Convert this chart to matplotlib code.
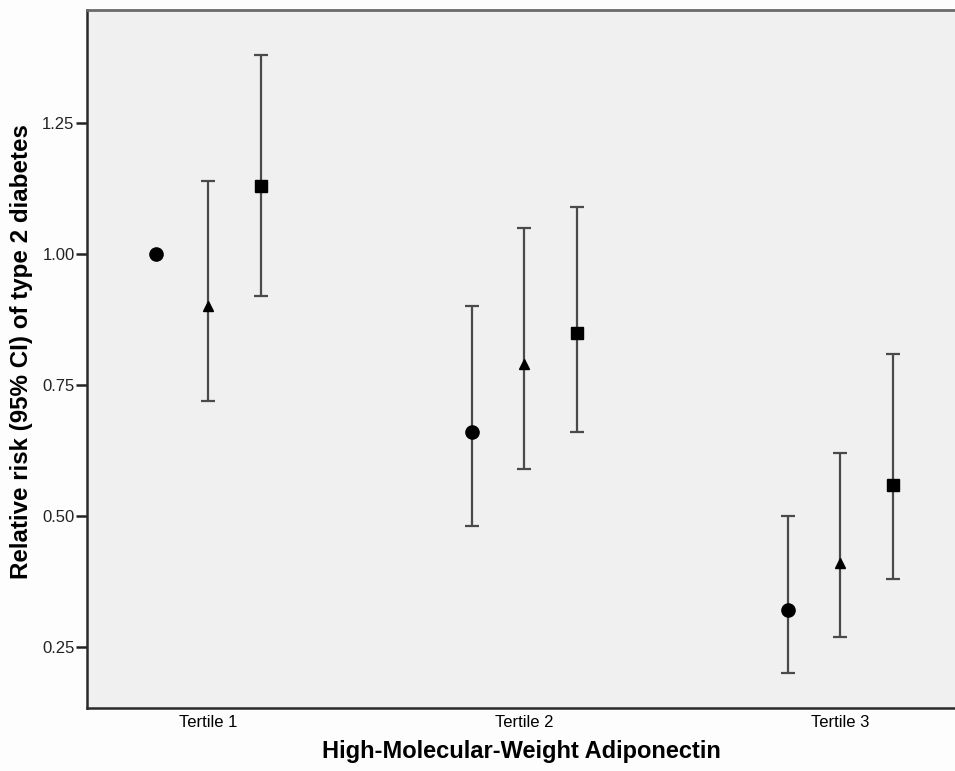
import matplotlib
matplotlib.use("Agg")
import matplotlib.pyplot as plt
import numpy as np

plt.rcParams['font.family'] = ['Liberation Sans', 'DejaVu Sans']

categories = ["Tertile 1", "Tertile 2", "Tertile 3"]
series_names = ["Model 1", "Model 2", "Model 3"]
rr = {
    "Model 1": [1.00, 0.66, 0.32],
    "Model 2": [0.90, 0.79, 0.41],
    "Model 3": [1.13, 0.85, 0.56],
}
lower = {
    "Model 1": [1.00, 0.48, 0.20],
    "Model 2": [0.72, 0.59, 0.27],
    "Model 3": [0.92, 0.66, 0.38],
}
upper = {
    "Model 1": [1.00, 0.90, 0.50],
    "Model 2": [1.14, 1.05, 0.62],
    "Model 3": [1.38, 1.09, 0.81],
}
yticks = [0.25, 0.50, 0.75, 1.00, 1.25]

markers = {"Model 1": ("o", 9.5), "Model 2": ("^", 7.0), "Model 3": ("s", 8.5)}
offsets = {"Model 1": -0.166, "Model 2": 0.0, "Model 3": 0.168}

fig = plt.figure(figsize=(9.55, 7.71), dpi=100)
fig.patch.set_facecolor("#fdfdfd")
ax = fig.add_axes([87/955, 1-708/771, 1-87/955, (708-10)/771])
ax.set_facecolor("#f0f0f0")

x = np.arange(len(categories))
for name in series_names:
    y = np.array(rr[name])
    lo = np.array(lower[name])
    hi = np.array(upper[name])
    xs = x + offsets[name]
    has_ci = hi > lo
    ax.errorbar(xs[has_ci], y[has_ci], yerr=[y[has_ci]-lo[has_ci], hi[has_ci]-y[has_ci]],
                fmt="none", ecolor="#4a4a4a", elinewidth=1.6, capsize=5, capthick=1.6, zorder=2)
    m, ms = markers[name]
    ax.plot(xs, y, linestyle="none", marker=m, markersize=ms, color="black", zorder=3)

ax.set_xlim(-0.383, 2.364)
ax.set_ylim(0.1336, 1.4656)
ax.set_xticks(x)
ax.set_xticklabels(categories, fontsize=12)
ax.set_yticks(yticks)
ax.set_yticklabels([f"{t:.2f}" for t in yticks], fontsize=12, color="#222222")
ax.tick_params(axis="x", length=0, pad=5)
ax.tick_params(axis="y", length=8, width=1.8, pad=1, color="#222222")

for s in ["left", "bottom"]:
    ax.spines[s].set_linewidth(1.8)
    ax.spines[s].set_color("#2a2a2a")
ax.spines["top"].set_linewidth(2.0)
ax.spines["top"].set_color("#6a6a6a")
ax.spines["right"].set_visible(False)

ax.set_ylabel("Relative risk (95% CI) of type 2 diabetes", fontsize=17.4, fontweight="bold")
ax.yaxis.set_label_coords(-0.062, 0.51)
ax.set_xlabel("High-Molecular-Weight Adiponectin", fontsize=17, fontweight="bold", labelpad=7)

fig.savefig("out.png", dpi=100, facecolor=fig.get_facecolor())
